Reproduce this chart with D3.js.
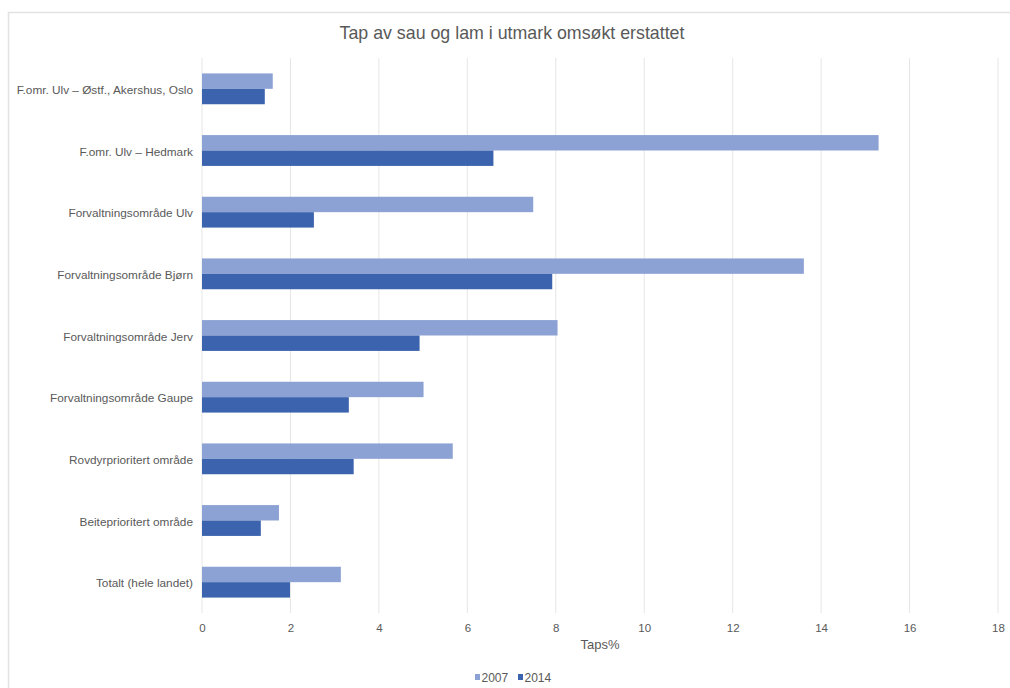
<!DOCTYPE html>
<html>
<head>
<meta charset="utf-8">
<script src="https://cdn.jsdelivr.net/npm/d3@7"></script>
<style>
  html, body { margin: 0; padding: 0; background: #ffffff; }
  svg { display: block; }
</style>
</head>
<body>
<div id="chart"></div>
<script>
const categories = [
  "F.omr. Ulv – Østf., Akershus, Oslo",
  "F.omr. Ulv – Hedmark",
  "Forvaltningsområde Ulv",
  "Forvaltningsområde Bjørn",
  "Forvaltningsområde Jerv",
  "Forvaltningsområde Gaupe",
  "Rovdyrprioritert område",
  "Beiteprioritert område",
  "Totalt (hele landet)"
];
const seriesNames = ["2007", "2014"];
const values2007 = [1.60, 15.30, 7.49, 13.61, 8.04, 5.01, 5.67, 1.74, 3.14];
const values2014 = [1.42, 6.59, 2.53, 7.92, 4.92, 3.32, 3.43, 1.33, 1.99];
const xTicks = [0, 2, 4, 6, 8, 10, 12, 14, 16, 18];
const titleText = "Tap av sau og lam i utmark omsøkt erstattet";
const xAxisTitle = "Taps%";

const W = 1010, H = 688;
const colors = { "2007": "#8da2d4", "2014": "#3c63ad" };
const font = "'Liberation Sans', Arial, sans-serif";
const textColor = "#595959";

const svg = d3.select("#chart").append("svg")
  .attr("width", W).attr("height", H);

// outer frame
svg.append("rect")
  .attr("x", 8.5).attr("y", 12.5)
  .attr("width", W + 10).attr("height", H + 10)
  .attr("fill", "#ffffff").attr("stroke", "#e2e2e2").attr("stroke-width", 1.5);

const plot = { left: 202, right: 998, top: 58, bottom: 613 };

const x = d3.scaleLinear().domain([0, 18]).range([plot.left, plot.right]);
const y = d3.scaleBand().domain(categories).range([plot.top, plot.bottom]).paddingInner(0.5).paddingOuter(0.25);
const ySub = d3.scaleBand().domain(seriesNames).range([0, y.bandwidth()]);

// gridlines
svg.append("g").selectAll("line").data(xTicks).join("line")
  .attr("x1", d => x(d)).attr("x2", d => x(d))
  .attr("y1", plot.top).attr("y2", plot.bottom)
  .attr("stroke", "#e6e6e6").attr("stroke-width", 1);

// bars
const rows = categories.map((c, i) => ({ cat: c, "2007": values2007[i], "2014": values2014[i] }));
const groups = svg.append("g").selectAll("g").data(rows).join("g")
  .attr("transform", d => `translate(0,${y(d.cat)})`);
groups.selectAll("rect").data(d => seriesNames.map(s => ({ s, v: d[s] }))).join("rect")
  .attr("x", x(0))
  .attr("y", d => ySub(d.s))
  .attr("width", d => x(d.v) - x(0))
  .attr("height", ySub.bandwidth())
  .attr("fill", d => colors[d.s]);

// x axis labels
const xAxis = d3.axisBottom(x).tickValues(xTicks).tickSize(0).tickPadding(0).tickFormat(d3.format("d"));
const xg = svg.append("g").attr("transform", `translate(0,${plot.bottom + 11})`).call(xAxis);
xg.select(".domain").remove();
xg.selectAll("text").attr("font-family", font).attr("font-size", 11.5).attr("fill", textColor);

// y axis labels
const yAxis = d3.axisLeft(y).tickSize(0).tickPadding(9);
const yg = svg.append("g").attr("transform", `translate(${plot.left},0)`).call(yAxis);
yg.select(".domain").remove();
yg.selectAll("text").attr("font-family", font).attr("font-size", 11.8).attr("fill", textColor)
  .attr("dy", "0.45em");

// title
svg.append("text").attr("x", 512).attr("y", 39).attr("text-anchor", "middle")
  .attr("font-family", font).attr("font-size", 17.8).attr("fill", textColor).text(titleText);

// x axis title
svg.append("text").attr("x", x(9)).attr("y", 649).attr("text-anchor", "middle")
  .attr("font-family", font).attr("font-size", 13).attr("fill", textColor).text(xAxisTitle);

// legend
const legendX = [475, 518];
const lg = svg.append("g").selectAll("g").data(seriesNames).join("g")
  .attr("transform", (d, i) => `translate(${legendX[i]},677)`);
lg.append("rect").attr("x", 0).attr("y", -3).attr("width", 5).attr("height", 6).attr("fill", d => colors[d]);
lg.append("text").attr("x", 6.5).attr("y", 4.5).attr("font-family", font).attr("font-size", 12)
  .attr("fill", textColor).text(d => d);
</script>
</body>
</html>
